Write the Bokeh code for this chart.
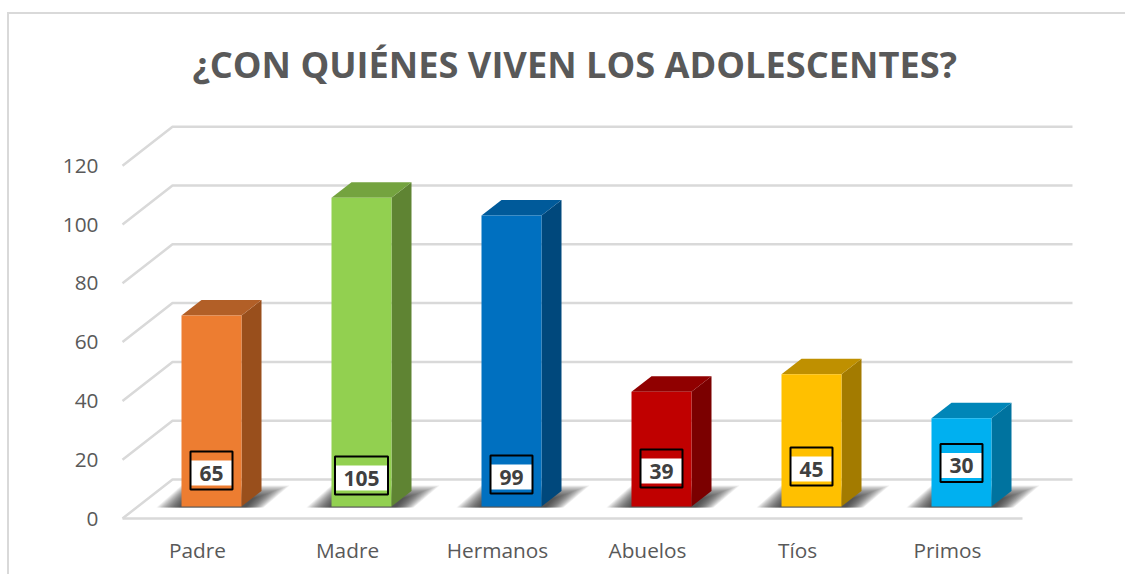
from bokeh.plotting import figure
from bokeh.models import Range1d, FixedTicker, Title
from bokeh.core.properties import value as fv
from bokeh.embed import file_html
from bokeh.resources import INLINE

title_text = "¿CON QUIÉNES VIVEN LOS ADOLESCENTES?"
categories = ["Padre", "Madre", "Hermanos", "Abuelos", "Tíos", "Primos"]
values = [65, 105, 99, 39, 45, 30]
y_ticks = [0, 20, 40, 60, 80, 100, 120]

front_colors = ["#ED7D31", "#92D050", "#0070C0", "#C00000", "#FFC000", "#00B0F0"]
top_colors = ["#B25F27", "#74A33F", "#005A9A", "#900000", "#BF9000", "#0086B8"]
side_colors = ["#994F1C", "#5F8433", "#00487C", "#7B0000", "#A37B00", "#00739F"]
label_shift_px = [0, 5, 4, -2, -4, -7.5]
label_width_px = [42, 53, 42, 42, 42, 42]

PX_X = 150.0
PX_Y = 2.94
F_L, F_R, F_T, F_B = 112, 1080, 105, 525
Y0, X0 = 518, 197
MX, MY = 9, 14          # where the chart's box starts on the page
W, H = 1127 - MX, 576 - MY

xr = Range1d((F_L - X0) / PX_X, (F_R - X0) / PX_X)
yr = Range1d((Y0 - F_B) / PX_Y, (Y0 - F_T) / PX_Y)

p = figure(width=W, height=H, frame_width=F_R - F_L, frame_height=F_B - F_T, x_range=xr, y_range=yr, output_backend="svg",
           toolbar_location=None, min_border_left=F_L - MX, min_border_right=W + MX - F_R,
           min_border_top=F_T - MY, min_border_bottom=H + MY - F_B,
           outline_line_color=None, background_fill_color="white", border_fill_color="white",
           margin=(MY, 0, 0, MX))
p.styles = {"box-shadow": "-2px -2px 0 0 #D9D9D9"}
p.grid.visible = False

t = Title(text=title_text, align="left", offset=80, text_font="Open Sans", text_font_style="bold",
          text_font_size="36.2px", text_color="#595959", standoff=33)
p.title = t

p.xaxis.ticker = FixedTicker(ticks=list(range(len(categories))))
p.xaxis.major_label_overrides = {i: c for i, c in enumerate(categories)}
p.yaxis.ticker = FixedTicker(ticks=y_ticks)
for ax in (p.xaxis[0], p.yaxis[0]):
    ax.axis_line_color = None
    ax.major_tick_line_color = None
    ax.minor_tick_line_color = None
    ax.major_label_text_font = "Open Sans"
    ax.major_label_text_font_size = "20.8px"
    ax.major_label_text_color = "#595959"
p.yaxis[0].major_label_standoff = 8
p.xaxis[0].major_label_standoff = 4

DX, DY = 1 / 3, 39 / PX_Y
GRID = "#D9D9D9"
n = len(categories)
LEFT = (122 - X0) / PX_X
for v in y_ticks:
    p.line([LEFT, LEFT + DX, LEFT + n + DX], [v, v + DY, v + DY], line_color=GRID, line_width=2.5)
p.line([LEFT, LEFT + n], [0, 0], line_color=GRID, line_width=2.5)

BX = 14 / PX_X
BY = 12 / PX_Y
HW = 30 / PX_X
DBX = 20 / PX_X
DBY = 15.5 / PX_Y
N_SHADOW = 18
for i, v in enumerate(values):
    c = i + BX
    l, r = c - HW, c + HW
    for k in range(N_SHADOW):
        f = k / (N_SHADOW - 1)
        top_y = BY + (21 - 13 * f) / PX_Y
        p.patch([l - (25 - 24 * f) / PX_X, r + (22 - 18 * f) / PX_X, r + (48 - 36 * f) / PX_X, l + 4 * f / PX_X],
                [BY - 1 / PX_Y, BY - 1 / PX_Y, top_y, top_y],
                fill_color="#222222", fill_alpha=0.07, line_color=None)
    p.patch([r, r + DBX, r + DBX, r], [BY, BY + DBY, BY + v + DBY, BY + v], fill_color=side_colors[i], line_color=None)
    p.patch([l, r, r + DBX, l + DBX], [BY + v, BY + v, BY + v + DBY, BY + v + DBY], fill_color=top_colors[i], line_color=None)
    p.quad(left=l, right=r, bottom=BY, top=BY + v, fill_color=front_colors[i], line_color=None)

    cy = (Y0 - (470 + label_shift_px[i])) / PX_Y
    hw = label_width_px[i] / 2 / PX_X
    p.quad(left=c - hw, right=c + hw, bottom=cy - 15 / PX_Y, top=cy + 10 / PX_Y,
           fill_color="white", line_color=None)
    p.quad(left=c - hw, right=c + hw, bottom=cy - 19 / PX_Y, top=cy + 19 / PX_Y,
           fill_color=None, line_color="black", line_width=2)
    p.text([c], [cy - 2.5 / PX_Y], text=[str(v)], text_align="center", text_baseline="middle",
           text_font=fv("Open Sans"), text_font_style="bold", text_font_size="21px", text_color="#404040")

open("out.html", "w").write(file_html(p, INLINE))
